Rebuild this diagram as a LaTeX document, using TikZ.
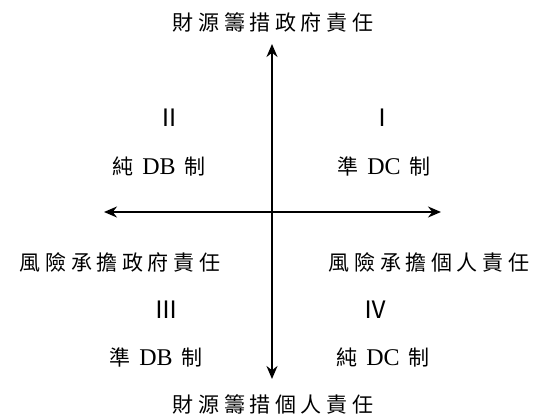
\documentclass[tikz,border=0pt]{standalone}
\usepackage{fontspec}
\setmainfont{Liberation Serif}
\newfontfamily\cjk{Noto Sans CJK TC}
\newfontfamily\cjksp[LetterSpace=22]{Noto Sans CJK TC}
\newcommand\cj[1]{{\fontsize{21}{24}\selectfont\cjk #1}}
\newcommand\gp{\hspace{9pt}}
\usetikzlibrary{arrows.meta}
\tikzset{
  axis/.style={line width=1.8pt, {Stealth[length=13pt,width=11pt]}-{Stealth[length=13pt,width=11pt]}},
  lab/.style={font=\fontsize{21}{24}\selectfont, inner sep=0pt, anchor=center},
  lat/.style={font=\fontsize{24}{26}\selectfont, inner sep=0pt, anchor=center},
}
\begin{document}
\begin{tikzpicture}[x=1pt,y=-1pt]
\useasboundingbox (0,0) rectangle (537,419);
\coordinate (top) at (272,44);
\coordinate (bot) at (272,379);
\coordinate (lft) at (104,212);
\coordinate (rgt) at (441,212);
\draw[axis] (bot) -- (top);
\draw[axis] (lft) -- (rgt);
\node[lab] (t) at (273,22) {\cjksp 財源籌措政府責任};
\node[lab] (b) at (273,404) {\cjksp 財源籌措個人責任};
\node[lab] (l) at (120,262) {\cjksp 風險承擔政府責任};
\node[lab] (r) at (429,262) {\cjksp 風險承擔個人責任};
\node[lab,font=\fontsize{24}{26}\selectfont] (q2) at (169,118) {\cjk Ⅱ};
\node[lab,font=\fontsize{24}{26}\selectfont] (q1) at (382,118) {\cjk Ⅰ};
\node[lab,font=\fontsize{24}{26}\selectfont] (q3) at (166,310) {\cjk Ⅲ};
\node[lab,font=\fontsize{24}{26}\selectfont] (q4) at (375,310) {\cjk Ⅳ};
\node[lat] (p2) at (159,166) {\cj{純}\gp DB\gp\cj{制}};
\node[lat] (p1) at (384,166) {\cj{準}\gp DC\gp\cj{制}};
\node[lat] (p3) at (156,357) {\cj{準}\gp DB\gp\cj{制}};
\node[lat] (p4) at (383,357) {\cj{純}\gp DC\gp\cj{制}};
\end{tikzpicture}
\end{document}
